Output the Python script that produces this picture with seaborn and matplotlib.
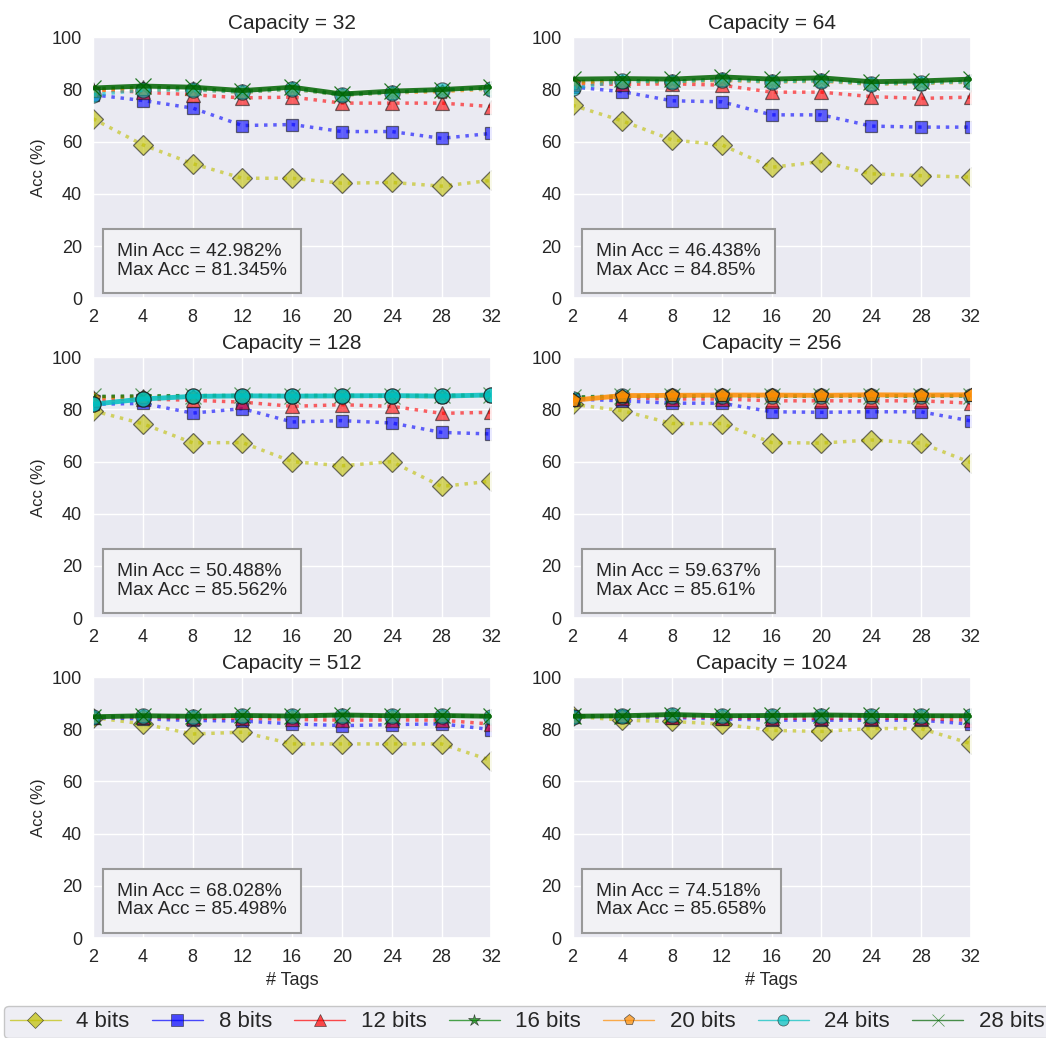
import matplotlib
matplotlib.use('Agg')
import matplotlib.pyplot as plt
from matplotlib.lines import Line2D
import numpy as np
import seaborn as sns

sns.set_theme(style='darkgrid')
plt.rcParams['font.family'] = ['Liberation Sans', 'DejaVu Sans']

tags = ['2', '4', '8', '12', '16', '20', '24', '28', '32']
capacities = [32, 64, 128, 256, 512, 1024]
bits_labels = ['4 bits', '8 bits', '12 bits', '16 bits', '20 bits', '24 bits', '28 bits']

# accuracy per bit width (rows: 4,8,12,16,20,24,28 bits)
acc_32 = [
    [68.8, 58.8, 51.6, 46.0, 46.0, 44.1, 44.4, 42.982, 45.2],
    [78.0, 75.8, 72.9, 66.2, 66.6, 63.9, 63.9, 61.3, 63.2],
    [80.0, 79.0, 78.0, 76.8, 77.1, 74.8, 74.8, 74.8, 73.5],
    [80.3, 80.9, 80.5, 79.3, 80.6, 78.1, 79.1, 79.6, 80.7],
    [79.5, 80.2, 80.0, 78.9, 80.1, 77.8, 78.7, 79.2, 80.2],
    [78.0, 79.8, 79.9, 79.0, 80.2, 77.9, 78.8, 80.0, 80.3],
    [80.6, 81.345, 80.9, 79.6, 80.9, 78.3, 79.4, 80.0, 81.0],
]
acc_64 = [
    [74.0, 68.0, 60.7, 58.8, 50.2, 52.4, 47.7, 47.0, 46.438],
    [81.0, 79.2, 75.7, 75.3, 70.3, 70.3, 66.0, 65.6, 65.6],
    [82.2, 82.0, 82.2, 81.7, 79.0, 79.0, 77.3, 76.6, 77.1],
    [83.0, 83.4, 83.2, 84.0, 83.2, 83.6, 82.3, 82.6, 83.2],
    [82.5, 83.0, 82.8, 83.5, 82.8, 83.2, 82.0, 82.3, 82.8],
    [80.5, 83.2, 83.0, 83.8, 83.0, 83.4, 82.2, 82.5, 83.0],
    [84.0, 84.2, 84.0, 84.85, 84.0, 84.5, 83.0, 83.3, 84.0],
]
acc_128 = [
    [79.5, 74.5, 67.2, 67.3, 60.0, 58.4, 60.0, 50.488, 52.5],
    [82.0, 82.3, 78.6, 80.3, 75.2, 75.7, 74.8, 71.2, 70.6],
    [83.5, 84.0, 83.5, 82.8, 81.2, 81.8, 81.2, 78.5, 78.9],
    [84.8, 85.0, 85.1, 85.3, 85.2, 85.3, 85.2, 85.2, 85.5],
    [84.5, 84.8, 84.9, 85.0, 84.9, 85.0, 84.9, 84.9, 85.2],
    [82.0, 84.0, 85.0, 85.2, 85.1, 85.2, 85.3, 85.1, 85.562],
    [85.0, 85.2, 85.3, 85.4, 85.3, 85.4, 85.3, 85.4, 85.5],
]
acc_256 = [
    [82.0, 79.5, 74.6, 74.6, 67.3, 67.1, 68.3, 67.1, 59.637],
    [84.0, 83.3, 82.4, 82.4, 79.1, 78.9, 79.1, 79.1, 75.6],
    [84.0, 84.5, 84.0, 84.0, 83.3, 83.3, 83.3, 83.3, 82.4],
    [84.5, 85.0, 85.0, 85.2, 85.1, 85.0, 85.2, 85.1, 85.2],
    [83.5, 85.3, 85.4, 85.5, 85.5, 85.4, 85.6, 85.5, 85.61],
    [84.0, 85.0, 85.1, 85.2, 85.2, 85.1, 85.3, 85.2, 85.3],
    [84.8, 85.1, 85.2, 85.3, 85.2, 85.2, 85.3, 85.2, 85.3],
]
acc_512 = [
    [84.5, 82.1, 78.2, 78.9, 74.4, 74.4, 74.4, 74.4, 68.028],
    [84.5, 84.0, 83.4, 83.2, 82.1, 81.4, 81.8, 82.1, 79.9],
    [84.8, 84.6, 84.2, 84.3, 83.8, 83.5, 83.6, 83.5, 82.0],
    [84.8, 85.1, 85.0, 85.2, 85.1, 85.3, 85.1, 85.2, 85.0],
    [84.6, 85.0, 84.9, 85.1, 85.0, 85.2, 85.0, 85.1, 84.9],
    [84.7, 85.0, 84.9, 85.1, 85.0, 85.2, 85.0, 85.1, 84.9],
    [84.8, 85.2, 85.0, 85.3, 85.1, 85.498, 85.2, 85.3, 85.0],
]
acc_1024 = [
    [85.0, 83.5, 83.0, 82.0, 79.6, 79.2, 80.3, 80.3, 74.518],
    [85.0, 85.0, 84.5, 84.0, 83.5, 83.5, 83.5, 83.5, 82.0],
    [85.0, 85.1, 84.8, 84.5, 84.2, 84.2, 84.2, 84.2, 83.5],
    [85.0, 85.1, 85.4, 85.1, 85.2, 85.3, 85.2, 85.1, 85.1],
    [84.9, 85.0, 85.3, 85.0, 85.1, 85.2, 85.1, 85.0, 85.0],
    [84.9, 85.0, 85.3, 85.0, 85.1, 85.2, 85.1, 85.0, 85.0],
    [85.0, 85.2, 85.658, 85.2, 85.3, 85.5, 85.3, 85.2, 85.2],
]
all_acc = [acc_32, acc_64, acc_128, acc_256, acc_512, acc_1024]
min_acc = ['42.982%', '46.438%', '50.488%', '59.637%', '68.028%', '74.518%']
max_acc = ['81.345%', '84.85%', '85.562%', '85.61%', '85.498%', '85.658%']
best_series = [6, 6, 5, 4, 6, 6]

colors = ['#BFBF00', '#0000FF', '#FF0000', '#008000', '#FF8C00', '#00BFBF', '#006400']
markers = ['D', 's', '^', '*', 'p', 'o', 'x']
msizes = [10, 9, 10, 10, 10, 11, 11]

fig, axes = plt.subplots(3, 2, figsize=(10.46, 10.38), dpi=100)
plt.subplots_adjust(left=0.089, right=0.928, top=0.964, bottom=0.0963,
                    wspace=0.204, hspace=0.226)

pos = np.arange(len(tags))
for k, ax in enumerate(axes.flat):
    acc = all_acc[k]
    for i in range(len(bits_labels)):
        solid = (i == best_series[k])
        edge = colors[i] if markers[i] == 'x' else 'k'
        sns.lineplot(x=pos, y=acc[i], ax=ax, color=colors[i],
                     marker=markers[i], markersize=msizes[i],
                     markeredgecolor=edge, markeredgewidth=0.9,
                     linestyle='-' if solid else ':',
                     linewidth=3.5 if solid else 2.5,
                     alpha=0.85 if solid else 0.6, zorder=3 if solid else 2)
    ax.set_title('Capacity = %d' % capacities[k], fontsize=15)
    ax.set_xlim(0, len(tags) - 1)
    ax.set_ylim(0, 100)
    ax.set_xticks(pos)
    ax.set_xticklabels(tags)
    ax.set_yticks([0, 20, 40, 60, 80, 100])
    ax.tick_params(labelsize=13, pad=2)
    if k % 2 == 0:
        ax.set_ylabel('Acc (%)', fontsize=12)
    if k >= 4:
        ax.set_xlabel('# Tags', fontsize=13)
    ax.text(0.06, 0.075, 'Min Acc = %s\nMax Acc = %s' % (min_acc[k], max_acc[k]),
            transform=ax.transAxes, fontsize=13.8, va='bottom', ha='left',
            linespacing=1.12,
            bbox=dict(boxstyle='square,pad=0.75', facecolor='#f2f2f5',
                      edgecolor='#999999', linewidth=1.5))

handles = [Line2D([0], [0], color=colors[i], marker=markers[i],
                  markersize=8 if markers[i] != '*' else 9,
                  markeredgecolor=colors[i] if markers[i] == 'x' else 'k',
                  markeredgewidth=0.5, alpha=0.7, linewidth=1)
           for i in range(len(bits_labels))]
leg = fig.legend(handles, bits_labels, loc='lower left', ncol=7,
                 bbox_to_anchor=(0.004, 0.0), fontsize=16, frameon=True,
                 handlelength=2.3, handletextpad=0.7, columnspacing=1.0,
                 borderaxespad=0.0, borderpad=0.25)
leg.get_frame().set_facecolor('#EAEAF2')
leg.get_frame().set_edgecolor('#bbbbbb')

plt.savefig('out.png', dpi=100)
